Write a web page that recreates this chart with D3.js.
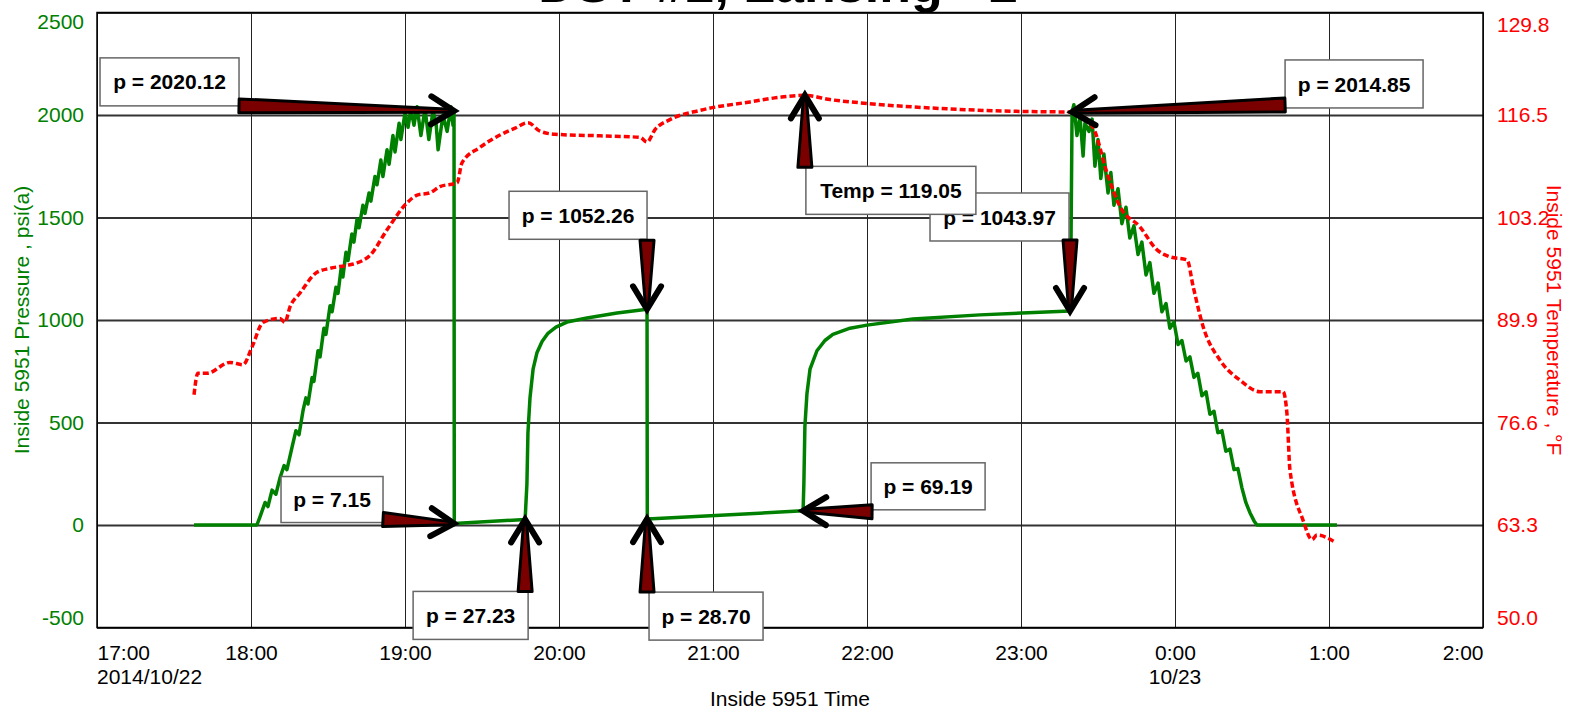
<!DOCTYPE html>
<html>
<head>
<meta charset="utf-8">
<script src="https://cdnjs.cloudflare.com/ajax/libs/d3/7.8.5/d3.min.js"></script>
<style>
body { margin: 0; background: #fff; }
svg { display: block; font-family: "Liberation Sans", Arial, sans-serif; }
</style>
</head>
<body>
<div id="chart-area"></div>
<script>
// time is minutes after 17:00 on 2014/10/22
var pressure = [
    [37.8,0],[62.3,0],[63.5,40],[65.5,110],[66.6,90],[68.2,170],[69.7,150],[71.3,230],
    [72.9,290],[74.0,270],[76.0,380],[77.5,460],[78.7,440],[80.3,560],[81.4,620],[82.2,590],
    [83.8,720],[84.5,700],[86.1,850],[86.9,820],[88.4,960],[89.2,930],[90.8,1070],[91.6,1040],
    [93.1,1160],[93.9,1130],[95.1,1250],[95.8,1210],[97.0,1330],[97.8,1290],[99.3,1420],[100.1,1380],
    [101.3,1490],[102.1,1450],[103.6,1560],[104.4,1520],[106.0,1620],[106.7,1580],[108.3,1700],[109.1,1660],
    [110.6,1780],[111.4,1700],[113.0,1830],[113.8,1760],[115.3,1900],[116.1,1820],[117.7,1960],[118.4,1880],
    [120.0,2010],[121.2,1940],[122.3,2030],[123.5,1950],[124.7,2040],[126.2,1900],[127.8,2030],[129.3,1880],
    [130.9,2020],[132.1,1960],[132.9,1830],[134.8,2000],[136.4,1920],[137.9,2040],[138.7,1950],[139.1,2020.12],
    [139.2,7.15],[166.8,27.23],[167.5,200],[167.9,450],[168.7,620],[169.9,760],[171.4,840],[173.4,895],
    [175.7,935],[178.8,965],[183.1,990],[190.9,1010],[202.6,1034],[214.3,1052.26],[214.4,28.70],[275.1,69.19],
    [275.4,200],[275.8,480],[276.6,640],[277.8,760],[280.5,850],[283.6,900],[286.7,930],[293.4,960],
    [300.0,975],[317.9,1005],[344.0,1025],[379.1,1043.97],[379.5,1400],[379.9,2014.85],[380.6,2050],[381.8,1900],
    [383.0,1990],[384.2,1800],[384.9,1960],[386.5,1920],[387.7,1980],[388.8,1750],[390.0,1880],[391.1,1690],
    [392.3,1810],[393.9,1620],[395.0,1720],[396.2,1560],[397.8,1640],[399.3,1470],[400.9,1550],[402.4,1400],
    [404.0,1460],[405.6,1320],[407.1,1380],[408.7,1220],[410.2,1280],[411.8,1130],[413.4,1180],[414.9,1040],
    [416.5,1080],[418.0,960],[419.6,990],[421.2,880],[422.7,900],[424.3,800],[425.8,820],[427.4,720],
    [428.9,740],[430.5,630],[432.1,650],[433.6,540],[435.2,555],[436.7,450],[438.3,460],[439.8,360],
    [441.4,370],[443.0,270],[444.5,275],[446.1,180],[447.6,110],[449.2,60],[450.8,20],[451.9,0],[483.1,0]
];

var temperature = [
    [37.8,80.2],[39.3,83.0],[42.9,83.0],[51.8,84.4],[56.9,84.1],[60.4,86.4],[64.7,89.6],[71.3,90.1],
    [73.2,89.6],[75.2,91.6],[79.1,93.4],[85.7,96.1],[90.8,96.6],[97.4,97.0],[101.3,97.3],[106.4,98.3],
    [113.0,101.6],[120.8,105.1],[124.7,106.1],[129.7,106.4],[133.6,107.2],[140.3,107.7],[142.2,110.3],[149.2,112.3],
    [157.0,113.9],[162.9,114.8],[167.9,115.5],[172.6,114.4],[178.4,114.0],[196.0,113.8],[211.6,113.6],[214.3,113.0],
    [217.4,114.6],[223.2,115.9],[234.9,117.1],[254.4,118.2],[266.1,118.8],[275.8,119.05],[285.6,118.5],[300.0,118.0],
    [331.2,117.3],[379.1,116.9],[379.9,116.9],[388.0,114.9],[393.5,109.0],[398.6,104.6],[406.3,102.0],[413.0,99.0],
    [418.0,98.1],[424.7,97.7],[427.1,94.2],[431.0,89.0],[437.5,84.7],[445.3,82.1],[453.1,80.6],[462.1,80.6],
    [463.6,77.8],[464.8,70.4],[469.9,63.9],[473.4,61.4],[475.3,62.0],[482.3,61.1]
];

var pressureTicks = [-500, 0, 500, 1000, 1500, 2000, 2500];
var tempTicks = [50.0, 63.3, 76.6, 89.9, 103.2, 116.5, 129.8];
var dateLabels = ["2014/10/22", "", "", "", "", "", "", "10/23", "", ""];

var calloutText = ["p = 2020.12", "p = 7.15", "p = 27.23", "p = 1052.26", "p = 28.70",
    "p = 69.19", "p = 1043.97", "Temp = 119.05", "p = 2014.85"];
var calloutTime = [139.1, 139.1, 166.8, 214.3, 214.3, 275.1, 379.1, 275.8, 379.9];
var calloutValue = [2020.12, 7.15, 27.23, 1052.26, 28.70, 69.19, 1043.97, 119.05, 2014.85];
var calloutAxis = ["p", "p", "p", "p", "p", "p", "p", "t", "p"];

// layout of each callout relative to its point: box [dx, dy, w, h], arrow tail [dx, dy]
var calloutBox = [[-354,-53,139,48],[-173,-47,102,46],[-112,72,115,48],[-138,-118,138,48],[2,73,114,48],
    [68,-48,114,47],[-140,-118,139,48],[1,71,170,48],[213,-52,138,48]];
var calloutTail = [[-215,-5],[-71,-4],[0,72],[0,-69],[0,73],[69,1],[0,-71],[0,72],[213,-7]];

function DstChart() {
    var self = this;
    self.init();
}

DstChart.prototype.init = function() {
    var self = this;

    self.width = 1573;
    self.height = 711;
    self.left = 97;
    self.right = 1483;
    self.top = 12.5;
    self.bottom = 627.5;

    self.base = new Date(2014, 9, 22, 17, 0);

    self.svg = d3.select("#chart-area").append("svg")
        .attr("width", self.width)
        .attr("height", self.height);

    self.x = d3.scaleTime()
        .domain([self.base, new Date(2014, 9, 23, 2, 0)])
        .range([self.left, self.right]);

    self.yP = d3.scaleLinear()
        .domain([-500, 2500])
        .range([self.bottom, self.top]);

    self.yT = d3.scaleLinear()
        .domain([50, 129.8])
        .range([self.bottom, self.top]);

    self.renderTitle();
    self.renderGrid();
    self.renderAxes();
    self.renderLines();
    self.renderCallouts();
};

DstChart.prototype.toDate = function(m) {
    return new Date(this.base.getTime() + m * 60000);
};

DstChart.prototype.renderTitle = function() {
    var self = this;
    // title sits mostly above the page edge, as in the original
    self.svg.append("text")
        .attr("x", 778)
        .attr("y", 2)
        .attr("text-anchor", "middle")
        .attr("font-size", 52)
        .attr("font-weight", "bold")
        .text("DST #2, Lansing - 2");
};

DstChart.prototype.renderGrid = function() {
    var self = this;
    var w = self.right - self.left;
    var h = self.bottom - self.top;

    var hGrid = self.svg.append("g")
        .attr("transform", "translate(" + self.left + ",0)")
        .call(d3.axisLeft(self.yP).tickValues(pressureTicks).tickSize(-w).tickFormat(""));
    hGrid.select(".domain").remove();
    hGrid.selectAll("line").attr("stroke", "#333").attr("stroke-width", 2);

    var vGrid = self.svg.append("g")
        .attr("transform", "translate(0," + self.bottom + ")")
        .call(d3.axisBottom(self.x).ticks(d3.timeHour.every(1)).tickSize(-h).tickFormat(""));
    vGrid.select(".domain").remove();
    vGrid.selectAll("line").attr("stroke", "#222").attr("stroke-width", 1);

    self.svg.append("rect")
        .attr("x", self.left)
        .attr("y", self.top)
        .attr("width", w)
        .attr("height", h)
        .attr("fill", "none")
        .attr("stroke", "#000")
        .attr("stroke-width", 1.5);
};

DstChart.prototype.renderAxes = function() {
    var self = this;
    var font = "'Liberation Sans', Arial, sans-serif";

    // LEFT AXIS
    var left = self.svg.append("g")
        .attr("transform", "translate(" + self.left + ",0)")
        .call(d3.axisLeft(self.yP).tickValues(pressureTicks).tickSize(0).tickPadding(13)
            .tickFormat(function(d) { return String(d); }));
    left.select(".domain").remove();
    left.attr("font-size", 21).attr("font-family", font);
    left.selectAll("text")
        .attr("fill", "#008000")
        .attr("transform", function(d) {
            if (d === 2500) return "translate(0,9.5)";
            if (d === -500) return "translate(0,-10)";
            return null;
        });

    // RIGHT AXIS
    var right = self.svg.append("g")
        .attr("transform", "translate(" + self.right + ",0)")
        .call(d3.axisRight(self.yT).tickValues(tempTicks).tickSize(0).tickPadding(14)
            .tickFormat(d3.format(".1f")));
    right.select(".domain").remove();
    right.attr("font-size", 21).attr("font-family", font);
    right.selectAll("text")
        .attr("fill", "#ff0000")
        .attr("transform", function(d, i) {
            if (i === tempTicks.length - 1) return "translate(0,12)";
            if (i === 0) return "translate(0,-10)";
            return null;
        });

    // TIME AXIS
    var hours = self.x.ticks(d3.timeHour.every(1));
    var bottom = self.svg.append("g")
        .attr("transform", "translate(0," + self.bottom + ")")
        .call(d3.axisBottom(self.x).tickValues(hours).tickSize(0).tickPadding(18)
            .tickFormat(d3.timeFormat("%-H:%M")));
    bottom.select(".domain").remove();
    bottom.attr("font-size", 21).attr("font-family", font);
    bottom.selectAll("text")
        .attr("fill", "#000")
        .attr("text-anchor", function(d, i) {
            if (i === 0) return "start";
            if (i === hours.length - 1) return "end";
            return "middle";
        });

    self.svg.selectAll(".date-label")
        .data(hours)
        .enter()
        .append("text")
        .attr("class", "date-label")
        .attr("x", function(d) { return self.x(d); })
        .attr("y", 684)
        .attr("font-size", 21)
        .attr("text-anchor", function(d, i) { return i === 0 ? "start" : "middle"; })
        .text(function(d, i) { return dateLabels[i]; });

    self.svg.append("text")
        .attr("x", (self.left + self.right) / 2)
        .attr("y", 706)
        .attr("font-size", 21)
        .attr("text-anchor", "middle")
        .text("Inside 5951 Time");

    self.svg.append("text")
        .attr("transform", "translate(29," + (self.top + self.bottom) / 2 + ") rotate(-90)")
        .attr("font-size", 21)
        .attr("fill", "#008000")
        .attr("text-anchor", "middle")
        .text("Inside 5951 Pressure , psi(a)");

    self.svg.append("text")
        .attr("transform", "translate(1547," + (self.top + self.bottom) / 2 + ") rotate(90)")
        .attr("font-size", 21)
        .attr("fill", "#ff0000")
        .attr("text-anchor", "middle")
        .text("Inside 5951 Temperature , \u00b0F");
};

DstChart.prototype.renderLines = function() {
    var self = this;

    var pLine = d3.line()
        .x(function(d) { return self.x(self.toDate(d[0])); })
        .y(function(d) { return self.yP(d[1]); });

    var tLine = d3.line()
        .x(function(d) { return self.x(self.toDate(d[0])); })
        .y(function(d) { return self.yT(d[1]); })
        .curve(d3.curveMonotoneX);

    self.svg.append("path")
        .datum(pressure)
        .attr("d", pLine)
        .attr("fill", "none")
        .attr("stroke", "#008000")
        .attr("stroke-width", 3.5)
        .attr("stroke-linejoin", "round");

    self.svg.append("path")
        .datum(temperature)
        .attr("d", tLine)
        .attr("fill", "none")
        .attr("stroke", "#ff0000")
        .attr("stroke-width", 3.5)
        .attr("stroke-dasharray", "6,3");
};

DstChart.prototype.drawArrow = function(g, x0, y0, x1, y1) {
    var dx = x1 - x0, dy = y1 - y0;
    var len = Math.sqrt(dx * dx + dy * dy);
    var ux = dx / len, uy = dy / len;
    var nx = -uy, ny = ux;
    var w0 = 7, w1 = 1.5;

    var shaft = [
        [x0 + nx * w0, y0 + ny * w0],
        [x1 - ux * 3 + nx * w1, y1 - uy * 3 + ny * w1],
        [x1 - ux * 3 - nx * w1, y1 - uy * 3 - ny * w1],
        [x0 - nx * w0, y0 - ny * w0]
    ];

    g.append("polygon")
        .attr("points", shaft.map(function(p) { return p.join(","); }).join(" "))
        .attr("fill", "#7a0000")
        .attr("stroke", "#000")
        .attr("stroke-width", 3)
        .attr("stroke-linejoin", "round");

    var back = 23, spread = 14;
    var head = [
        [x1 - ux * back + nx * spread, y1 - uy * back + ny * spread],
        [x1, y1],
        [x1 - ux * back - nx * spread, y1 - uy * back - ny * spread]
    ];

    g.append("polyline")
        .attr("points", head.map(function(p) { return p.join(","); }).join(" "))
        .attr("fill", "none")
        .attr("stroke", "#000")
        .attr("stroke-width", 6)
        .attr("stroke-linecap", "round")
        .attr("stroke-linejoin", "miter");
};

DstChart.prototype.renderCallouts = function() {
    var self = this;

    for (var i = 0; i < calloutText.length; i++) {
        var px = self.x(self.toDate(calloutTime[i]));
        var py = calloutAxis[i] === "t" ? self.yT(calloutValue[i]) : self.yP(calloutValue[i]);
        var box = calloutBox[i];
        var tail = calloutTail[i];

        var g = self.svg.append("g").attr("class", "callout");

        g.append("rect")
            .attr("x", px + box[0])
            .attr("y", py + box[1])
            .attr("width", box[2])
            .attr("height", box[3])
            .attr("fill", "#fff")
            .attr("stroke", "#666")
            .attr("stroke-width", 1.5);

        g.append("text")
            .attr("x", px + box[0] + box[2] / 2)
            .attr("y", py + box[1] + box[3] / 2)
            .attr("dy", "0.36em")
            .attr("text-anchor", "middle")
            .attr("font-size", 21)
            .attr("font-weight", "bold")
            .text(calloutText[i]);

        self.drawArrow(g, px + tail[0], py + tail[1], px, py);
    }
};

var chart = new DstChart();
</script>
</body>
</html>
